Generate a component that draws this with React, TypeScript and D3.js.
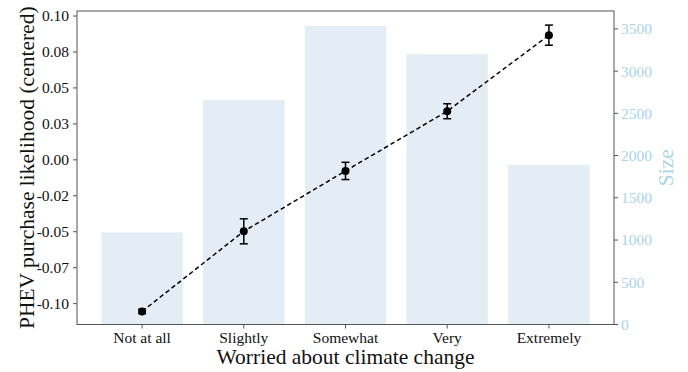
import React from "react";
import * as d3 from "d3";

const categories = ["Not at all", "Slightly", "Somewhat", "Very", "Extremely"];
const sizes = [1090, 2660, 3535, 3200, 1890];
const likelihood = [-0.1054, -0.0497, -0.0077, 0.0338, 0.0867];
const errors = [0.0015, 0.0087, 0.006, 0.0052, 0.007];
const leftTickValues = [0.1, 0.075, 0.05, 0.025, 0, -0.025, -0.05, -0.075, -0.1];
const leftTickLabels = ["0.10", "0.08", "0.05", "0.03", "0.00", "-0.02", "-0.05", "-0.07", "-0.10"];
const rightTickValues = [0, 500, 1000, 1500, 2000, 2500, 3000, 3500];

const W = 688, H = 372;
const L = 77, R = 614, T = 11, B = 324.5;
const FONT = "'Liberation Serif', 'Times New Roman', serif";
const AXIS = "#555";
const SIZE_COLOR = "#a8d4ec";

export default function App() {
  const x = d3.scaleLinear().domain([-0.64, categories.length - 1 + 0.64]).range([L, R]);
  const y = d3.scaleLinear().domain([-0.1145, 0.1035]).range([B, T]);
  const y2 = d3.scaleLinear().domain([0, d3.max(sizes)! * 1.05]).range([B, T]);
  const barW = x(0.4) - x(-0.4);
  const line = d3.line<number>().x((_, i) => x(i)).y((d) => y(d));

  return (
    <svg width={W} height={H} style={{ position: "absolute", left: 0, top: 0, background: "#fff" }} fontFamily={FONT}>
      {sizes.map((s, i) => (
        <rect key={i} x={x(i) - barW / 2} y={y2(s)} width={barW} height={y2(0) - y2(s)} fill="#e4ecf6" />
      ))}
      <path d={line(likelihood)!} fill="none" stroke="#000" strokeWidth={1.5} strokeDasharray="4.5,3" />
      {likelihood.map((v, i) => (
        <g key={i} stroke="#000" strokeWidth={1.5}>
          <line x1={x(i)} x2={x(i)} y1={y(v - errors[i])} y2={y(v + errors[i])} />
          <line x1={x(i) - 4} x2={x(i) + 4} y1={y(v - errors[i])} y2={y(v - errors[i])} />
          <line x1={x(i) - 4} x2={x(i) + 4} y1={y(v + errors[i])} y2={y(v + errors[i])} />
          <circle cx={x(i)} cy={y(v)} r={4} fill="#000" stroke="none" />
        </g>
      ))}
      <rect x={L} y={T} width={R - L} height={B - T} fill="none" stroke={AXIS} strokeWidth={1} />
      {leftTickValues.map((v, i) => (
        <g key={i}>
          <line x1={L - 4} x2={L} y1={y(v)} y2={y(v)} stroke={AXIS} />
          <text x={L - 8} y={y(v)} dy="0.35em" textAnchor="end" fontSize={15.5} fill="#111">{leftTickLabels[i]}</text>
        </g>
      ))}
      {rightTickValues.map((v, i) => (
        <g key={i}>
          <line x1={R} x2={R + 4} y1={y2(v)} y2={y2(v)} stroke={AXIS} />
          <text x={R + 7} y={y2(v)} dy="0.35em" textAnchor="start" fontSize={15.5} fill={SIZE_COLOR}>{v}</text>
        </g>
      ))}
      {categories.map((c, i) => (
        <g key={i}>
          <line x1={x(i)} x2={x(i)} y1={B} y2={B + 4} stroke={AXIS} />
          <text x={x(i)} y={B + 18.5} textAnchor="middle" fontSize={15.5} fill="#111">{c}</text>
        </g>
      ))}
      <text x={(L + R) / 2} y={364} textAnchor="middle" fontSize={21.5} fill="#111">Worried about climate change</text>
      <text transform={`translate(34,${(T + B) / 2}) rotate(-90)`} textAnchor="middle" fontSize={21.5} fill="#111">PHEV purchase likelihood (centered)</text>
      <text transform={`translate(673,${(T + B) / 2}) rotate(-90)`} textAnchor="middle" fontSize={21.5} fill={SIZE_COLOR}>Size</text>
    </svg>
  );
}
